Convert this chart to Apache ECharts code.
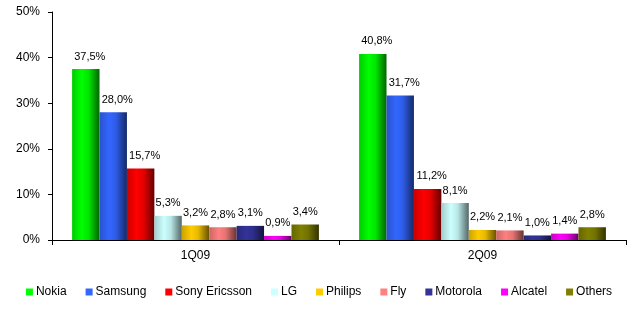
<!DOCTYPE html>
<html><head><meta charset="utf-8">
<script src="https://cdn.jsdelivr.net/npm/echarts@6/dist/echarts.min.js"></script>
<style>html,body{margin:0;padding:0;background:#fff}#c{width:638px;height:309px}</style>
</head><body><div id="c"></div>
<script>
const categories = ['1Q09', '2Q09'];
const brands = ['Nokia', 'Samsung', 'Sony Ericsson', 'LG', 'Philips', 'Fly', 'Motorola', 'Alcatel', 'Others'];
const nokia = [37.5, 40.8];
const samsung = [28.0, 31.7];
const sonyEricsson = [15.7, 11.2];
const lg = [5.3, 8.1];
const philips = [3.2, 2.2];
const fly = [2.8, 2.1];
const motorola = [3.1, 1.0];
const alcatel = [0.9, 1.4];
const others = [3.4, 2.8];
const yTicks = [0, 10, 20, 30, 40, 50];

const values = [nokia, samsung, sonyEricsson, lg, philips, fly, motorola, alcatel, others];
const baseColors = ['#00ff00', '#3366ff', '#ff0000', '#ccffff', '#ffcc00', '#ff8080', '#333399', '#ff00ff', '#808000'];

function shade(hex, f) {
  const n = parseInt(hex.slice(1), 16);
  let r = (n >> 16) & 255, g = (n >> 8) & 255, b = n & 255;
  if (f < 0) { r = Math.round(r * (1 + f)); g = Math.round(g * (1 + f)); b = Math.round(b * (1 + f)); }
  else { r = Math.round(r + (255 - r) * f); g = Math.round(g + (255 - g) * f); b = Math.round(b + (255 - b) * f); }
  return 'rgb(' + r + ',' + g + ',' + b + ')';
}
function grad(c) {
  return new echarts.graphic.LinearGradient(0, 0, 1, 0, [
    { offset: 0, color: shade(c, -0.2) },
    { offset: 0.35, color: c },
    { offset: 0.6, color: shade(c, -0.1) },
    { offset: 1, color: shade(c, -0.6) }
  ]);
}

const chart = echarts.init(document.getElementById('c'), null, { renderer: 'canvas' });
chart.setOption({
  animation: false,
  grid: { left: 52, right: 12, top: 12, bottom: 69, containLabel: false },
  legend: {
    bottom: 6, left: 'center', itemWidth: 7, itemHeight: 7, itemGap: 19,
    icon: 'rect',
    textStyle: { fontFamily: 'Liberation Sans, Arial', fontSize: 12, color: '#000', padding: [0, 0, 0, -2] },
    data: brands.map((b, i) => ({ name: b, itemStyle: { color: baseColors[i] } }))
  },
  xAxis: {
    type: 'category', data: categories,
    axisLine: { lineStyle: { color: '#000', width: 1 } },
    axisTick: { show: true, length: 5, lineStyle: { color: '#000' } },
    axisLabel: { color: '#000', fontFamily: 'Liberation Sans, Arial', fontSize: 12, margin: 10 }
  },
  yAxis: {
    type: 'value', min: 0, max: 50, interval: 10,
    axisLine: { show: true, lineStyle: { color: '#000' } },
    axisTick: { show: true, length: 4, lineStyle: { color: '#000' } },
    splitLine: { show: false },
    axisLabel: { color: '#000', fontFamily: 'Liberation Sans, Arial', fontSize: 12, margin: 12,
      formatter: v => yTicks.includes(v) ? v + '%' : '' }
  },
  series: brands.map((b, i) => ({
    name: b, type: 'bar', data: values[i],
    barGap: '0%', barCategoryGap: '14%',
    itemStyle: { color: grad(baseColors[i]) },
    label: { show: true, position: 'top', distance: 7, offset: [i < 3 ? 4 : 0, 0], color: '#000',
      fontFamily: 'Liberation Sans, Arial', fontSize: 11,
      formatter: p => p.value.toFixed(1).replace('.', ',') + '%' }
  }))
});
</script></body></html>
